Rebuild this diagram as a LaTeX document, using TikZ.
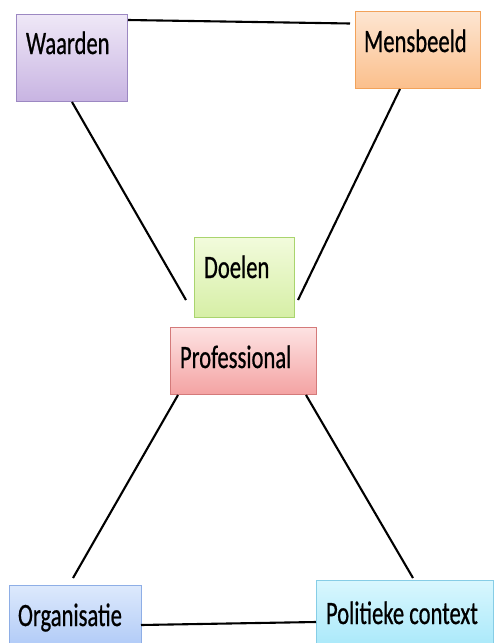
\documentclass[tikz,border=0pt]{standalone}
\usepackage{fontspec}
\setmainfont{Carlito}
\newfontfamily\heavyfont{Carlito}[FakeBold=0.8]
\usetikzlibrary{calc}
\definecolor{wTop}{HTML}{EFE8F7}\definecolor{wBot}{HTML}{C8B4E2}\definecolor{wBrd}{HTML}{9C88C2}
\definecolor{mTop}{HTML}{FDE6D2}\definecolor{mBot}{HTML}{FBBF8C}\definecolor{mBrd}{HTML}{F2A25A}
\definecolor{dTop}{HTML}{F2FBDC}\definecolor{dBot}{HTML}{D6EFA6}\definecolor{dBrd}{HTML}{A9D46E}
\definecolor{pTop}{HTML}{FDE3E3}\definecolor{pBot}{HTML}{F4A3A3}\definecolor{pBrd}{HTML}{D47A7A}
\definecolor{oTop}{HTML}{DDE9FC}\definecolor{oBot}{HTML}{A6C3F6}\definecolor{oBrd}{HTML}{8EAEE6}
\definecolor{cTop}{HTML}{D9F7FE}\definecolor{cBot}{HTML}{A0E6F9}\definecolor{cBrd}{HTML}{86CDE6}
\newcommand{\tx}[1]{\scalebox{1}[1.44]{\heavyfont\fontsize{22.6pt}{26pt}\selectfont #1}}
\tikzset{
  box/.style={rectangle, inner sep=0pt, outer sep=0pt, line width=1pt},
  lbl/.style={anchor=base west, inner sep=0pt, outer sep=0pt, text=black},
  conn/.style={line width=2.1pt, black},
}
\begin{document}
\begin{tikzpicture}[x=1pt,y=-1pt]
\useasboundingbox (0,0) rectangle (494,643);
\clip (0,0) rectangle (494,643);
\fill[white] (0,0) rectangle (494,643);
% boxes
\node[box, draw=wBrd, top color=wTop, bottom color=wBot, minimum width=111pt, minimum height=87pt] (waarden) at (71.5,57.5) {};
\node[box, draw=mBrd, top color=mTop, bottom color=mBot, minimum width=125pt, minimum height=77pt] (mensbeeld) at (417.5,49.5) {};
\node[box, draw=dBrd, top color=dTop, bottom color=dBot, minimum width=100pt, minimum height=80pt] (doelen) at (244,277) {};
\node[box, draw=pBrd, top color=pTop, bottom color=pBot, minimum width=146pt, minimum height=67pt] (professional) at (243,360.5) {};
\node[box, draw=oBrd, top color=oTop, bottom color=oBot, minimum width=132pt, minimum height=76pt] (organisatie) at (75,623) {};
\node[box, draw=cBrd, top color=cTop, bottom color=cBot, minimum width=177pt, minimum height=80pt] (politieke) at (404.5,620) {};
% labels
\node[lbl] (waardenT) at ($(waarden.north west)+(10,40)$) {\tx{Waarden}};
\node[lbl] (mensbeeldT) at ($(mensbeeld.north west)+(9,41)$) {\tx{Mensbeeld}};
\node[lbl] (doelenT) at ($(doelen.north west)+(10,41)$) {\tx{Doelen}};
\node[lbl] (professionalT) at ($(professional.north west)+(10,41)$) {\tx{Professional}};
\node[lbl] (organisatieT) at ($(organisatie.north west)+(9,41)$) {\tx{Organisatie}};
\node[lbl] (politiekeT) at ($(politieke.north west)+(10,44)$) {\tx{Politieke context}};
% connector end points
\coordinate (wmA) at ($(waarden.north east)+(1,6)$);
\coordinate (wmB) at ($(mensbeeld.west)+(-5,-26)$);
\coordinate (wdA) at ($(waarden.south)+(0.5,1)$);
\coordinate (wdB) at (186,300);
\coordinate (mdA) at ($(mensbeeld.south west)+(45,1)$);
\coordinate (mdB) at (298,300);
\coordinate (poA) at ($(professional.south west)+(8,1)$);
\coordinate (poB) at (73,578);
\coordinate (ppA) at ($(professional.south west)+(136,1)$);
\coordinate (ppB) at (413,578);
\coordinate (ocA) at ($(organisatie.north east)+(0,40)$);
\coordinate (ocB) at ($(politieke.north west)+(0,42)$);
% connectors
\draw[conn] (wmA) -- (wmB);
\draw[conn] (wdA) -- (wdB);
\draw[conn] (mdA) -- (mdB);
\draw[conn] (poA) -- (poB);
\draw[conn] (ppA) -- (ppB);
\draw[conn] (ocA) -- (ocB);
\end{tikzpicture}
\end{document}
